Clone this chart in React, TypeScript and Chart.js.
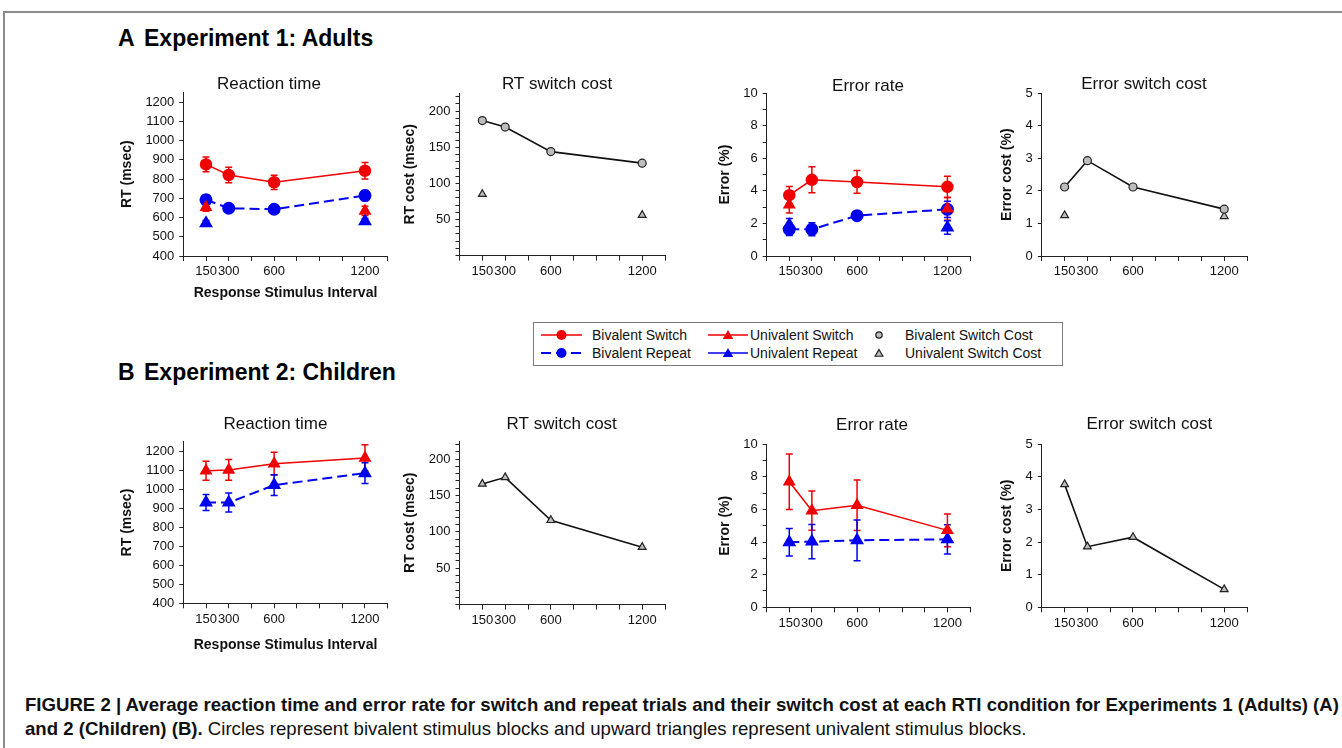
import React, { useEffect, useRef } from 'react';
import { Chart, registerables } from 'chart.js';

Chart.register(...registerables);

const FONT = "'Liberation Sans', Arial, Helvetica, sans-serif";
Chart.defaults.font.family = FONT;

// ---------------- axes ----------------
const RTI = [150, 300, 600, 1200];
const X_TICKS = [0, 150, 300, 450, 600, 750, 900, 1050, 1200, 1350];
const X_LABELS = [150, 300, 600, 1200];

const RT_TICKS = [400, 500, 600, 700, 800, 900, 1000, 1100, 1200];
const RT_LABELS = [400, 500, 600, 700, 800, 900, 1000, 1100, 1200];
const RT_COST_TICKS = [0, 10, 20, 30, 40, 50, 60, 70, 80, 90, 100, 110, 120, 130, 140, 150, 160, 170, 180, 190, 200, 210, 220];
const RT_COST_LABELS = [50, 100, 150, 200];
const ERR_TICKS = [0, 1, 2, 3, 4, 5, 6, 7, 8, 9, 10];
const ERR_LABELS = [0, 2, 4, 6, 8, 10];
const ERR_COST_TICKS = [0, 1, 2, 3, 4, 5];
const ERR_COST_LABELS = [0, 1, 2, 3, 4, 5];

// ---------------- Experiment 1: Adults ----------------
const e1RtBivSwitch = [876, 821, 783, 843];
const e1RtBivSwitchErr = [38, 40, 37, 43];
const e1RtBivRepeat = [692, 648, 643, 714];
const e1RtBivRepeatErr = [25, 18, 18, 26];
const e1RtUniSwitch = [653, null, null, 634];
const e1RtUniSwitchErr = [20, null, null, 24];
const e1RtUniRepeat = [570, null, null, 580];
const e1RtUniRepeatErr = [14, null, null, 15];
const e1RtCostBiv = [187, 178, 144, 128];
const e1RtCostUni = [85, null, null, 56];

const e1ErrBivSwitch = [3.74, 4.68, 4.55, 4.25];
const e1ErrBivSwitchErr = [0.53, 0.8, 0.7, 0.65];
const e1ErrBivRepeat = [1.64, 1.64, 2.48, 2.87];
const e1ErrBivRepeatErr = [0.38, 0.4, 0.22, 0.5];
const e1ErrUniSwitch = [3.15, null, null, 2.9];
const e1ErrUniSwitchErr = [0.5, null, null, 0.7];
const e1ErrUniRepeat = [1.9, null, null, 1.75];
const e1ErrUniRepeatErr = [0.4, null, null, 0.42];
const e1ErrCostBiv = [2.12, 2.93, 2.12, 1.44];
const e1ErrCostUni = [1.25, null, null, 1.22];

// ---------------- Experiment 2: Children ----------------
const e2RtUniSwitch = [1097, 1102, 1135, 1165];
const e2RtUniSwitchErr = [50, 55, 60, 70];
const e2RtUniRepeat = [930, 930, 1022, 1085];
const e2RtUniRepeatErr = [42, 50, 55, 55];
const e2RtCostUni = [166, 175, 116, 79];

const e2ErrUniSwitch = [7.7, 5.93, 6.26, 4.72];
const e2ErrUniSwitchErr = [1.7, 1.2, 1.55, 1.0];
const e2ErrUniRepeat = [3.99, 4.03, 4.11, 4.17];
const e2ErrUniRepeatErr = [0.85, 1.05, 1.25, 0.9];
const e2ErrCostUni = [3.77, 1.86, 2.15, 0.55];

const LEGEND_LABELS = [
  'Bivalent Switch', 'Bivalent Repeat', 'Univalent Switch',
  'Univalent Repeat', 'Bivalent Switch Cost', 'Univalent Switch Cost',
];

// ---------------- styles ----------------
const RED = '#f00000';
const BLUE = '#0000f0';
const GREY = '#bdbdbd';

const ST = {
  bivSwitch: { borderColor: RED, backgroundColor: RED, pointStyle: 'circle', pointRadius: 5.5, borderWidth: 1.5, borderDash: [] },
  bivRepeat: { borderColor: BLUE, backgroundColor: BLUE, pointStyle: 'circle', pointRadius: 5.5, borderWidth: 2, borderDash: [10, 5] },
  uniSwitch: { borderColor: RED, backgroundColor: RED, pointStyle: 'triangle', pointRadius: 6, borderWidth: 1.5, borderDash: [] },
  uniRepeat: { borderColor: BLUE, backgroundColor: BLUE, pointStyle: 'triangle', pointRadius: 6, borderWidth: 2, borderDash: [10, 5] },
  costBiv: { borderColor: '#111', backgroundColor: GREY, pointBackgroundColor: GREY, pointBorderColor: '#222', pointBorderWidth: 1.2, pointStyle: 'circle', pointRadius: 4, borderWidth: 1.6, borderDash: [] },
  costUni: { borderColor: '#111', backgroundColor: GREY, pointBackgroundColor: GREY, pointBorderColor: '#222', pointBorderWidth: 1.2, pointStyle: 'triangle', pointRadius: 4.5, borderWidth: 1.6, borderDash: [] },
};

const pts = (vals) => RTI.map((x, i) => ({ x, y: vals[i] }));
const ds = (label, vals, errs, style) => ({
  label, data: pts(vals), errors: errs, spanGaps: false, tension: 0, fill: false, ...style,
});

// ---------------- error bar plugin ----------------
const errorBarPlugin = {
  id: 'errorBars',
  beforeDatasetsDraw(chart) {
    const ctx = chart.ctx;
    const yScale = chart.scales.y;
    chart.data.datasets.forEach((d, di) => {
      const errs = d.errors;
      if (!errs) return;
      const meta = chart.getDatasetMeta(di);
      ctx.save();
      ctx.strokeStyle = d.borderColor;
      ctx.lineWidth = 1.5;
      ctx.setLineDash([]);
      meta.data.forEach((pt, i) => {
        const raw = d.data[i];
        const e = errs[i];
        if (!raw || raw.y == null || e == null) return;
        const x = pt.x;
        const yTop = yScale.getPixelForValue(raw.y + e);
        const yBot = yScale.getPixelForValue(raw.y - e);
        ctx.beginPath();
        ctx.moveTo(x, yTop); ctx.lineTo(x, yBot);
        ctx.moveTo(x - 3.5, yTop); ctx.lineTo(x + 3.5, yTop);
        ctx.moveTo(x - 3.5, yBot); ctx.lineTo(x + 3.5, yBot);
        ctx.stroke();
      });
      ctx.restore();
    });
  },
};

// ---------------- panels ----------------
const RT_AXIS = { min: 400, max: 1250, ticks: RT_TICKS, labels: RT_LABELS, space: 42 };
const RTC_AXIS = { min: 0, max: 225, ticks: RT_COST_TICKS, labels: RT_COST_LABELS, space: 34 };
const ERR_AXIS = { min: 0, max: 10, ticks: ERR_TICKS, labels: ERR_LABELS, space: 26 };
const ERRC_AXIS = { min: 0, max: 5, ticks: ERR_COST_TICKS, labels: ERR_COST_LABELS, space: 18 };

const PANELS = [
  {
    key: 'a1', title: 'Reaction time', yTitle: 'RT (msec)', xTitle: 'Response Stimulus Interval', axis: RT_AXIS,
    plotL: 183.3, plotR: 387.7, plotT: 92.4, plotB: 256, titleX: 269, titleY: 84.5, yTitleX: 127, xTitleY: 293,
    datasets: [
      ds('Bivalent Switch', e1RtBivSwitch, e1RtBivSwitchErr, ST.bivSwitch),
      ds('Univalent Switch', e1RtUniSwitch, e1RtUniSwitchErr, ST.uniSwitch),
      ds('Bivalent Repeat', e1RtBivRepeat, e1RtBivRepeatErr, ST.bivRepeat),
      ds('Univalent Repeat', e1RtUniRepeat, e1RtUniRepeatErr, ST.uniRepeat),
    ],
  },
  {
    key: 'a2', title: 'RT switch cost', yTitle: 'RT cost (msec)', axis: RTC_AXIS,
    plotL: 459.5, plotR: 665, plotT: 93.1, plotB: 255.6, titleX: 557, titleY: 84, yTitleX: 410,
    datasets: [
      ds('Bivalent Switch Cost', e1RtCostBiv, null, ST.costBiv),
      ds('Univalent Switch Cost', e1RtCostUni, null, ST.costUni),
    ],
  },
  {
    key: 'a3', title: 'Error rate', yTitle: 'Error (%)', axis: ERR_AXIS,
    plotL: 766.7, plotR: 970, plotT: 93.3, plotB: 256, titleX: 868, titleY: 86, yTitleX: 725,
    datasets: [
      ds('Bivalent Switch', e1ErrBivSwitch, e1ErrBivSwitchErr, ST.bivSwitch),
      ds('Univalent Switch', e1ErrUniSwitch, e1ErrUniSwitchErr, ST.uniSwitch),
      ds('Bivalent Repeat', e1ErrBivRepeat, e1ErrBivRepeatErr, ST.bivRepeat),
      ds('Univalent Repeat', e1ErrUniRepeat, e1ErrUniRepeatErr, ST.uniRepeat),
    ],
  },
  {
    key: 'a4', title: 'Error switch cost', yTitle: 'Error cost (%)', axis: ERRC_AXIS,
    plotL: 1041.8, plotR: 1247, plotT: 93.3, plotB: 256, titleX: 1144, titleY: 84, yTitleX: 1007,
    datasets: [
      ds('Bivalent Switch Cost', e1ErrCostBiv, null, ST.costBiv),
      ds('Univalent Switch Cost', e1ErrCostUni, null, ST.costUni),
    ],
  },
  {
    key: 'b1', title: 'Reaction time', yTitle: 'RT (msec)', xTitle: 'Response Stimulus Interval', axis: RT_AXIS,
    plotL: 183.3, plotR: 387.7, plotT: 441.8, plotB: 603.3, titleX: 275.5, titleY: 424, yTitleX: 127, xTitleY: 645,
    datasets: [
      ds('Univalent Switch', e2RtUniSwitch, e2RtUniSwitchErr, ST.uniSwitch),
      ds('Univalent Repeat', e2RtUniRepeat, e2RtUniRepeatErr, ST.uniRepeat),
    ],
  },
  {
    key: 'b2', title: 'RT switch cost', yTitle: 'RT cost (msec)', axis: RTC_AXIS,
    plotL: 459.5, plotR: 665, plotT: 441, plotB: 604.6, titleX: 561.7, titleY: 424, yTitleX: 410,
    datasets: [
      ds('Univalent Switch Cost', e2RtCostUni, null, ST.costUni),
    ],
  },
  {
    key: 'b3', title: 'Error rate', yTitle: 'Error (%)', axis: ERR_AXIS,
    plotL: 766.7, plotR: 970, plotT: 444.3, plotB: 607.3, titleX: 872, titleY: 425, yTitleX: 725,
    datasets: [
      ds('Univalent Switch', e2ErrUniSwitch, e2ErrUniSwitchErr, ST.uniSwitch),
      ds('Univalent Repeat', e2ErrUniRepeat, e2ErrUniRepeatErr, ST.uniRepeat),
    ],
  },
  {
    key: 'b4', title: 'Error switch cost', yTitle: 'Error cost (%)', axis: ERRC_AXIS,
    plotL: 1041.8, plotR: 1247, plotT: 444.3, plotB: 607.3, titleX: 1149.3, titleY: 424, yTitleX: 1006.7,
    datasets: [
      ds('Univalent Switch Cost', e2ErrCostUni, null, ST.costUni),
    ],
  },
];

function geom(s) {
  const axisLeft = s.plotL - s.axis.space;
  const rw = Math.max(0, 2 * s.titleX - s.plotR - axisLeft);
  const CL = Math.floor(Math.min(axisLeft, s.yTitleX - 10));
  const CR = Math.ceil(s.plotR + rw + 12);
  const CT = Math.floor(s.titleY - 14);
  const CB = s.xTitle ? Math.ceil(s.xTitleY + 12) : Math.ceil(s.plotB + 30);
  return {
    CL, CT, W: CR - CL, H: CB - CT, rw,
    padLeft: axisLeft - CL,
    padRight: CR - s.plotR - rw,
    yWidth: s.plotL - axisLeft,
    xHeight: CB - s.plotB,
    titlePadTop: s.titleY - CT - 8.5,
    titlePadBottom: s.plotT - s.titleY - 8.5,
    yTitlePad: s.yTitleX - axisLeft - 8.4,
    xTitlePad: s.xTitle ? CB - s.xTitleY - 8.4 : 0,
  };
}

const AXIS_COLOR = '#222';
const TICK_FONT = { size: 13, family: FONT };
const AXIS_TITLE_FONT = { size: 14, weight: 'bold', family: FONT };

function Panel({ spec }) {
  const ref = useRef(null);
  const g = geom(spec);
  useEffect(() => {
    const ax = spec.axis;
    const scales: any = {
      x: {
        type: 'linear', min: 0, max: 1350,
        afterBuildTicks: (s) => { s.ticks = X_TICKS.map((v) => ({ value: v })); },
        afterFit: (s) => { s.height = g.xHeight; },
        ticks: {
          autoSkip: false, maxRotation: 0, minRotation: 0, padding: 3, color: '#111', font: TICK_FONT,
          callback: (v) => (X_LABELS.includes(v) ? String(v) : ''),
        },
        grid: { drawOnChartArea: false, drawTicks: true, tickLength: 5, color: AXIS_COLOR, lineWidth: 1 },
        border: { display: true, color: AXIS_COLOR, width: 1 },
        title: spec.xTitle
          ? { display: true, text: spec.xTitle, color: '#111', font: AXIS_TITLE_FONT, padding: { top: 0, bottom: g.xTitlePad } }
          : { display: false },
      },
      y: {
        type: 'linear', min: ax.min, max: ax.max,
        afterBuildTicks: (s) => { s.ticks = ax.ticks.map((v) => ({ value: v })); },
        afterFit: (s) => { s.width = g.yWidth; },
        ticks: {
          autoSkip: false, padding: 5, color: '#111', font: TICK_FONT,
          callback: (v) => (ax.labels.includes(v) ? String(v) : ''),
        },
        grid: { drawOnChartArea: false, drawTicks: true, tickLength: 4, color: AXIS_COLOR, lineWidth: 1 },
        border: { display: true, color: AXIS_COLOR, width: 1 },
        title: { display: true, text: spec.yTitle, color: '#111', font: AXIS_TITLE_FONT, padding: { top: g.yTitlePad, bottom: 0 } },
      },
    };
    if (g.rw > 0) {
      scales.yr = {
        type: 'linear', position: 'right', display: true, min: 0, max: 1,
        afterFit: (s) => { s.width = g.rw; },
        ticks: { display: false }, grid: { display: false }, border: { display: false },
      };
    }
    const chart = new Chart(ref.current, {
      type: 'line',
      data: { datasets: spec.datasets },
      options: {
        responsive: false,
        animation: false,
        events: [],
        layout: { padding: { left: g.padLeft, right: g.padRight, top: 0, bottom: 0 } },
        plugins: {
          legend: { display: false },
          tooltip: { enabled: false },
          title: {
            display: true, text: spec.title, color: '#111', fullSize: true,
            font: { size: 17, weight: 'normal', lineHeight: 1, family: FONT },
            padding: { top: g.titlePadTop, bottom: g.titlePadBottom },
          },
        },
        scales,
      },
      plugins: [errorBarPlugin],
    } as any);
    return () => chart.destroy();
  }, []);
  return (
    <canvas
      ref={ref}
      width={g.W}
      height={g.H}
      style={{ position: 'absolute', left: g.CL, top: g.CT, width: g.W, height: g.H }}
    />
  );
}

// ---------------- legend ----------------
function Marker({ kind, color, r, stroke }) {
  if (kind === 'circle') {
    return <circle cx={0} cy={0} r={r} fill={color} stroke={stroke || color} strokeWidth={stroke ? 1.2 : 0} />;
  }
  const h = r * 0.866;
  return (
    <polygon
      points={`0,${-r} ${h},${r / 2} ${-h},${r / 2}`}
      fill={color}
      stroke={stroke || color}
      strokeWidth={stroke ? 1.2 : 0}
    />
  );
}

function LineSample({ left, width, y, color, dashed, kind }) {
  return (
    <svg style={{ position: 'absolute', left, top: y - 8, overflow: 'visible' }} width={width} height={16}>
      <line x1={0} y1={8} x2={width} y2={8} stroke={color} strokeWidth={dashed ? 2 : 1.5} strokeDasharray={dashed ? '10 5' : undefined} />
      <g transform={`translate(${width / 2},${kind === 'triangle' ? 9 : 8})`}>
        <Marker kind={kind} color={color} r={kind === 'triangle' ? 6 : 5} stroke={null} />
      </g>
    </svg>
  );
}

function PointSample({ x, y, kind }) {
  return (
    <svg style={{ position: 'absolute', left: x - 8, top: y - 8, overflow: 'visible' }} width={16} height={16}>
      <g transform={`translate(8,${kind === 'triangle' ? 9 : 8})`}>
        <Marker kind={kind} color={GREY} r={kind === 'triangle' ? 4.5 : 3.2} stroke="#222" />
      </g>
    </svg>
  );
}

const legendText = (x, y, text) => (
  <div key={text} style={{ position: 'absolute', left: x, top: y - 9, height: 18, lineHeight: '18px', fontSize: 14, fontFamily: FONT, color: '#111', whiteSpace: 'nowrap' }}>
    {text}
  </div>
);

function LegendBox() {
  const r1 = 335;
  const r2 = 353;
  return (
    <>
      <div style={{ position: 'absolute', left: 533, top: 322, width: 530, height: 44, border: '1.5px solid #7a7a7a', boxSizing: 'border-box', background: '#fff' }} />
      <LineSample left={541} width={41} y={r1} color={RED} dashed={false} kind="circle" />
      <LineSample left={541} width={41} y={r2} color={BLUE} dashed kind="circle" />
      <LineSample left={708} width={40} y={r1} color={RED} dashed={false} kind="triangle" />
      <LineSample left={708} width={40} y={r2} color={BLUE} dashed={false} kind="triangle" />
      <PointSample x={879} y={r1} kind="circle" />
      <PointSample x={879} y={r2} kind="triangle" />
      {legendText(592, r1, LEGEND_LABELS[0])}
      {legendText(592, r2, LEGEND_LABELS[1])}
      {legendText(750, r1, LEGEND_LABELS[2])}
      {legendText(750, r2, LEGEND_LABELS[3])}
      {legendText(905, r1, LEGEND_LABELS[4])}
      {legendText(905, r2, LEGEND_LABELS[5])}
    </>
  );
}

function Heading({ y, letter, text }) {
  const base = { position: 'absolute' as const, top: y - 13, height: 26, lineHeight: '26px', fontSize: 23, fontWeight: 'bold' as const, fontFamily: FONT, color: '#000', whiteSpace: 'nowrap' as const };
  return (
    <>
      <div style={{ ...base, left: 118 }}>{letter}</div>
      <div style={{ ...base, left: 144 }}>{text}</div>
    </>
  );
}

export default function App() {
  return (
    <div style={{ position: 'absolute', left: 0, top: 0, width: 1342, height: 748, background: '#fff', overflow: 'hidden', fontFamily: FONT }}>
      <div style={{ position: 'absolute', left: 3, top: 11, width: 1400, height: 800, borderTop: '2px solid #8c8c8c', borderLeft: '2px solid #8c8c8c' }} />
      <Heading y={38} letter="A" text="Experiment 1: Adults" />
      <Heading y={372} letter="B" text="Experiment 2: Children" />
      {PANELS.map((p) => <Panel key={p.key} spec={p} />)}
      <LegendBox />
      <div style={{ position: 'absolute', left: 25, top: 693, fontSize: 18.6, lineHeight: '24px', color: '#111', whiteSpace: 'nowrap', fontFamily: FONT }}>
        <div style={{ fontWeight: 'bold' }}>
          FIGURE 2 | Average reaction time and error rate for switch and repeat trials and their switch cost at each RTI condition for Experiments 1 (Adults) (A)
        </div>
        <div>
          <span style={{ fontWeight: 'bold' }}>and 2 (Children) (B).</span>
          {' '}Circles represent bivalent stimulus blocks and upward triangles represent univalent stimulus blocks.
        </div>
      </div>
    </div>
  );
}
